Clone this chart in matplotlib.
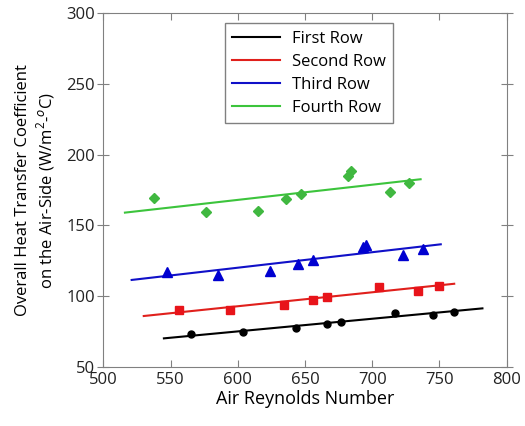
import matplotlib
matplotlib.use('Agg')
from matplotlib import pyplot as plt

plt.rcParams['font.family'] = ['Open Sans', 'DejaVu Sans']
plt.rcParams['mathtext.fontset'] = 'custom'
plt.rcParams['mathtext.rm'] = 'Open Sans'

# measured points per tube row
first_x = [565, 604, 643, 666, 677, 717, 745, 761]
first_y = [73.4, 74.3, 77.2, 80.2, 81.6, 87.8, 86.6, 88.7]
second_x = [556, 594, 634, 656, 666, 705, 734, 750]
second_y = [90.1, 90.1, 93.4, 97.4, 99.3, 106.6, 103.8, 106.9]
third_x = [547, 585, 624, 645, 656, 693, 695, 723, 738]
third_y = [117.0, 115.1, 117.5, 122.9, 125.5, 134.5, 135.9, 129.3, 133.5]
fourth_x = [538, 576, 615, 636, 647, 682, 684, 713, 727]
fourth_y = [169.6, 159.5, 160.2, 168.5, 172.0, 185.2, 188.7, 173.4, 179.8]

# fitted trend lines (end points)
first_fit_x, first_fit_y = [545, 782], [70.1, 91.3]
second_fit_x, second_fit_y = [530, 761], [85.9, 108.7]
third_fit_x, third_fit_y = [521, 751], [111.4, 136.6]
fourth_fit_x, fourth_fit_y = [516, 736], [159.0, 182.6]

labels = ['First Row', 'Second Row', 'Third Row', 'Fourth Row']

fig = plt.figure(figsize=(5.25, 4.26), dpi=100)
ax = fig.add_axes([0.197, 0.139, 0.768, 0.830])

series = [
    (first_x, first_y, first_fit_x, first_fit_y, 'black', 'black', 'o', 5),
    (second_x, second_y, second_fit_x, second_fit_y, '#e0201c', '#e8141a', 's', 5.5),
    (third_x, third_y, third_fit_x, third_fit_y, '#1010c8', '#0000d0', '^', 7),
    (fourth_x, fourth_y, fourth_fit_x, fourth_fit_y, '#3cc43c', '#40b840', 'D', 5.5),
]
for (x, y, fx, fy, lc, mc, mk, ms), lab in zip(series, labels):
    ax.plot(fx, fy, color=lc, linewidth=1.5, label=lab)
    ax.plot(x, y, linestyle='none', marker=mk, markersize=ms, color=mc)

ax.set_xlim(500, 800)
ax.set_ylim(50, 300)
ax.set_xticks(range(500, 801, 50))
ax.set_yticks(range(50, 301, 50))
ax.tick_params(axis='both', labelsize=12, colors='#222222')
ax.tick_params(axis='x', direction='in', top=True, length=5, color='#808080', pad=4)
ax.tick_params(axis='y', direction='inout', right=True, length=8, color='#808080', pad=2)
for sp in ax.spines.values():
    sp.set_color('#808080')
ax.set_xlabel('Air Reynolds Number', fontsize=13, labelpad=1)
ax.set_ylabel('Overall Heat Transfer Coefficient\non the Air-Side (W/m$^{2}$-$^{o}$C)',
              fontsize=12, labelpad=7)

leg = ax.legend(loc='upper center', bbox_to_anchor=(0.51, 0.972), fontsize=12,
                frameon=True, fancybox=False, edgecolor='#606060', handlelength=2.9,
                borderpad=0.45, labelspacing=0.42, handletextpad=0.7, borderaxespad=0)
leg.get_frame().set_linewidth(1.0)

fig.savefig('out.png', dpi=100)
